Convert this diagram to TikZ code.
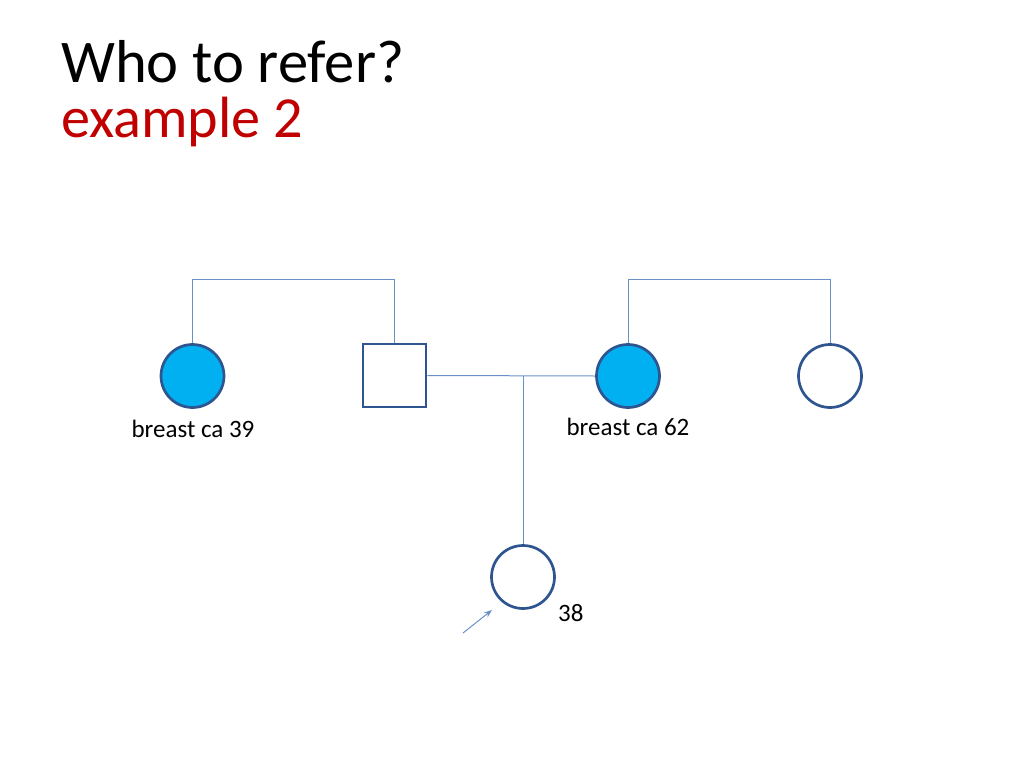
\documentclass[tikz,border=0pt]{standalone}
\usepackage{fontspec}
\setmainfont{Carlito}
\usetikzlibrary{arrows.meta}
\definecolor{fillc}{HTML}{00B0F0}
\definecolor{edgec}{HTML}{2F5590}
\definecolor{linec}{HTML}{6A90C8}
\definecolor{titlered}{HTML}{C00000}
\begin{document}
\begin{tikzpicture}[x=1pt,y=-1pt,
  person/.style={draw=edgec,line width=2.7pt,minimum size=63pt,inner sep=0pt},
  female/.style={person,circle},
  male/.style={person,rectangle},
  affected/.style={fill=fillc},
  link/.style={draw=linec,line width=1pt},
  lbl/.style={font=\fontsize{25}{30}\selectfont,inner sep=0pt,anchor=base}]
\useasboundingbox (0,0) rectangle (1024,768);
\node[anchor=base west,inner sep=0pt,font=\fontsize{60.6}{72}\selectfont] (title) at (61,82) {Who to refer?};
\node[anchor=base west,inner sep=0pt,font=\fontsize{58.2}{72}\selectfont,text=titlered] (sub) at (61,137) {example 2};
\node[female,affected] (gm1) at (192.5,376) {};
\node[male] (gf) at (394.5,375.5) {};
\node[female,affected] (mo) at (628,376) {};
\node[female] (au) at (830,376) {};
\node[female] (pro) at (523,577) {};
\coordinate (t1) at (192.5,279);
\coordinate (t2) at (394.5,279);
\coordinate (t3) at (628,279);
\coordinate (t4) at (830,279);
\coordinate (mid) at (523,376);
\draw[link] (gm1.north) -- (t1) -- (t2) -- (gf.north);
\draw[link] (mo.north) -- (t3) -- (t4) -- (au.north);
\draw[link] (gf.east) -- (mo.west);
\draw[link] (mid) -- (pro.north);
\coordinate (as) at (463,633);
\coordinate (ae) at (492,610);
\draw[link,-{Stealth[length=8pt,width=6pt]}] (as) -- (ae);
\node[lbl] (l1) at (193,437) {breast ca 39};
\node[lbl] (l2) at (628,435) {breast ca 62};
\node[lbl,anchor=base west] (l3) at (558,621) {38};
\end{tikzpicture}
\end{document}
